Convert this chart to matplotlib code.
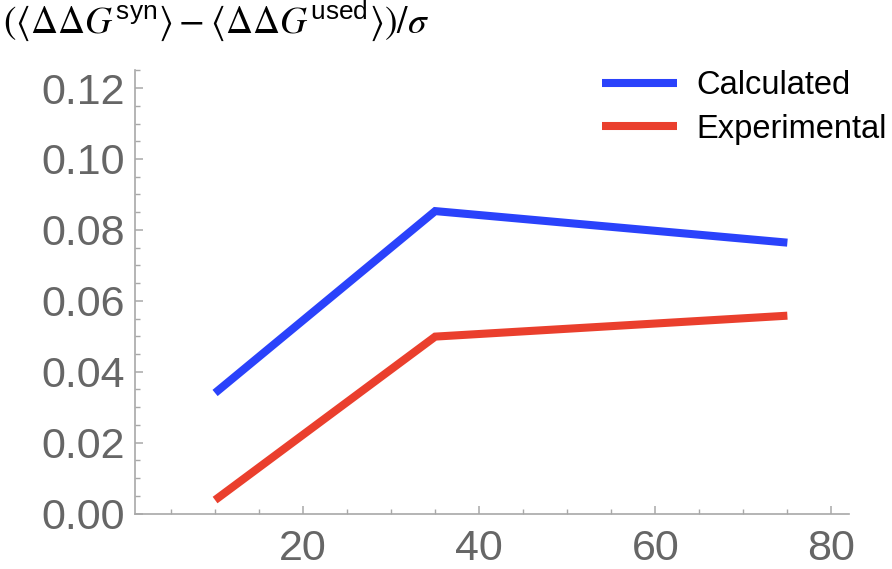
import matplotlib
matplotlib.use("Agg")
import matplotlib.pyplot as plt
from matplotlib.ticker import MultipleLocator

# values
x_vals = [10, 35, 75]
calculated = [0.0340, 0.0853, 0.0764]
experimental = [0.0038, 0.0499, 0.0558]
series_names = ["Calculated", "Experimental"]
x_ticks = [20, 40, 60, 80]
y_ticks = [0.00, 0.02, 0.04, 0.06, 0.08, 0.10, 0.12]

plt.rcParams['font.family'] = ['Liberation Sans', 'DejaVu Sans']
plt.rcParams['mathtext.fontset'] = 'custom'
plt.rcParams['mathtext.rm'] = 'STIXGeneral'
plt.rcParams['mathtext.it'] = 'STIXGeneral:italic'
plt.rcParams['mathtext.sf'] = 'Liberation Sans'
plt.rcParams['mathtext.fallback'] = 'stix'

fig = plt.figure(figsize=(8.92, 5.69), dpi=100)
ax = fig.add_axes([0.1513, 0.0975, 0.8005, 0.7795])

ax.plot(x_vals, calculated, color='#2a42fb', lw=5.8, label=series_names[0],
        solid_joinstyle='miter', solid_capstyle='butt')
ax.plot(x_vals, experimental, color='#ea3f2d', lw=5.8, label=series_names[1],
        solid_joinstyle='miter', solid_capstyle='butt')

ax.set_xlim(0.9, 82)
ax.set_ylim(0, 0.1251)

ax.set_xticks(x_ticks)
ax.set_yticks(y_ticks)
ax.set_yticklabels([f"{v:.2f}" for v in y_ticks])
ax.xaxis.set_minor_locator(MultipleLocator(5))
ax.yaxis.set_minor_locator(MultipleLocator(0.005))

axis_col = '#a8a8a8'
for s in ['top', 'right']:
    ax.spines[s].set_visible(False)
for s in ['left', 'bottom']:
    ax.spines[s].set_color(axis_col)
    ax.spines[s].set_linewidth(1.2)

ax.tick_params(which='both', direction='in', colors=axis_col, labelcolor='#666666',
               labelsize=31)
ax.tick_params(which='major', length=6, width=1.1)
ax.tick_params(which='minor', length=3.5, width=1.0)
ax.tick_params(axis='x', pad=11)
ax.tick_params(axis='y', pad=7)

ax.legend(loc='upper right', bbox_to_anchor=(0.998, 0.882), bbox_transform=fig.transFigure,
          frameon=False, fontsize=23.5, handlelength=2.3, handletextpad=0.6,
          labelspacing=0.38, borderaxespad=0, borderpad=0.1)

fig.text(0.003, 0.964,
         r'$(\langle\Delta\Delta G^{\mathsf{syn}}\rangle - \langle\Delta\Delta G^{\mathsf{used}}\rangle)/\sigma$',
         fontsize=27, ha='left', va='center')

fig.savefig("out.png", dpi=100)
